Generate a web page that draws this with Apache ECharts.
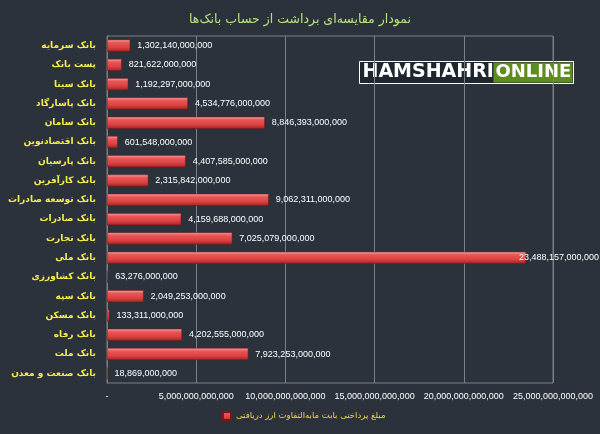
<!DOCTYPE html>
<html><head><meta charset="utf-8">
<script src="https://cdn.jsdelivr.net/npm/echarts@6/dist/echarts.min.js"></script>
<style>html,body{margin:0;padding:0;background:#2b323c;}#c{width:600px;height:434px;}</style>
</head><body><div id="c"></div>
<script>
const categories = ['بانک سرمایه','پست بانک','بانک سینا','بانک پاسارگاد','بانک سامان','بانک اقتصادنوین','بانک پارسیان','بانک کارآفرین','بانک توسعه صادرات','بانک صادرات','بانک تجارت','بانک ملی','بانک کشاورزی','بانک سپه','بانک مسکن','بانک رفاه','بانک ملت','بانک صنعت و معدن'];
const values = [1302140000000,821622000000,1192297000000,4534776000000,8846393000000,601548000000,4407585000000,2315842000000,9062311000000,4159688000000,7025079000000,23488157000000,63276000000,2049253000000,133311000000,4202555000000,7923253000000,18869000000];
const seriesName = 'مبلغ پرداختی بابت مابه‌التفاوت ارز دریافتی';
const titleText = 'نمودار مقایسه‌ای برداشت از حساب بانک‌ها';
const xTicks = [0,5e12,10e12,15e12,20e12,25e12];

function fmt(v){ return v===0 ? '-' : v.toLocaleString('en-US'); }
const num = 'Tahoma, "Liberation Sans", Arial, sans-serif';
const fa = 'Tahoma, "DejaVu Sans", sans-serif';

const chart = echarts.init(document.getElementById('c'));
chart.setOption({
  backgroundColor:'#2b323c',
  animation:false,
  title:{text:titleText,left:'center',top:8,textStyle:{color:'#b6e37f',fontSize:12.5,fontWeight:'normal',fontFamily:fa}},
  grid:{left:107,right:47,top:36,bottom:51,containLabel:false,outerBoundsMode:'none',show:true,borderColor:'#7a8089',borderWidth:1,backgroundColor:'transparent'},
  legend:{show:true,bottom:8,left:217,itemWidth:8,itemHeight:8,itemGap:4,icon:'rect',
    textStyle:{color:'#f3d54a',fontSize:8.5,fontFamily:fa},data:[seriesName]},
  xAxis:{type:'value',min:xTicks[0],max:xTicks[xTicks.length-1],interval:xTicks[1]-xTicks[0],
    axisLine:{show:false},axisTick:{show:false},
    splitLine:{show:true,lineStyle:{color:'#7a8089',width:1}},
    axisLabel:{color:'#ffffff',fontSize:9,fontFamily:num,margin:9,formatter:fmt}},
  yAxis:{type:'category',data:categories,inverse:true,
    axisLine:{show:true,lineStyle:{color:'#7a8089'}},axisTick:{show:false},
    axisLabel:{color:'#f5ef4a',fontSize:9,fontWeight:'bold',fontFamily:fa,margin:11}},
  series:[{name:seriesName,type:'bar',data:values,barWidth:12,
    itemStyle:{color:new echarts.graphic.LinearGradient(0,0,0,1,[
      {offset:0,color:'#f9a8a8'},{offset:0.25,color:'#ea5656'},{offset:0.65,color:'#dc4242'},{offset:1,color:'#a52222'}]),
      borderColor:'#7a1616',borderWidth:0.5},
    label:{show:true,position:'right',distance:7,color:'#ffffff',fontSize:9,fontFamily:num,formatter:p=>fmt(p.value)},
    labelLayout:function(p){
      const r=p.labelRect;
      if(r.x+r.width>599){ return {x:599-r.width,y:r.y+r.height/2,align:'left',verticalAlign:'middle'}; }
      return {};
    }
  }],
  graphic:[
    {type:'group',left:359,top:61,children:[
      {type:'rect',shape:{x:0,y:0,width:214,height:22},style:{fill:'#1f2630',stroke:'#ffffff',lineWidth:1}},
      {type:'rect',shape:{x:134,y:1,width:79,height:20},style:{fill:'#5e8d1f'}},
      {type:'text',style:{x:3,y:11,text:'HAMSHAHRI',fill:'#ffffff',font:'bold 19px "DejaVu Sans", sans-serif',verticalAlign:'middle'}},
      {type:'text',style:{x:136,y:11,text:'ONLINE',fill:'#ffffff',font:'bold 18px "DejaVu Sans", sans-serif',verticalAlign:'middle'}}
    ]}
  ]
});
</script></body></html>
